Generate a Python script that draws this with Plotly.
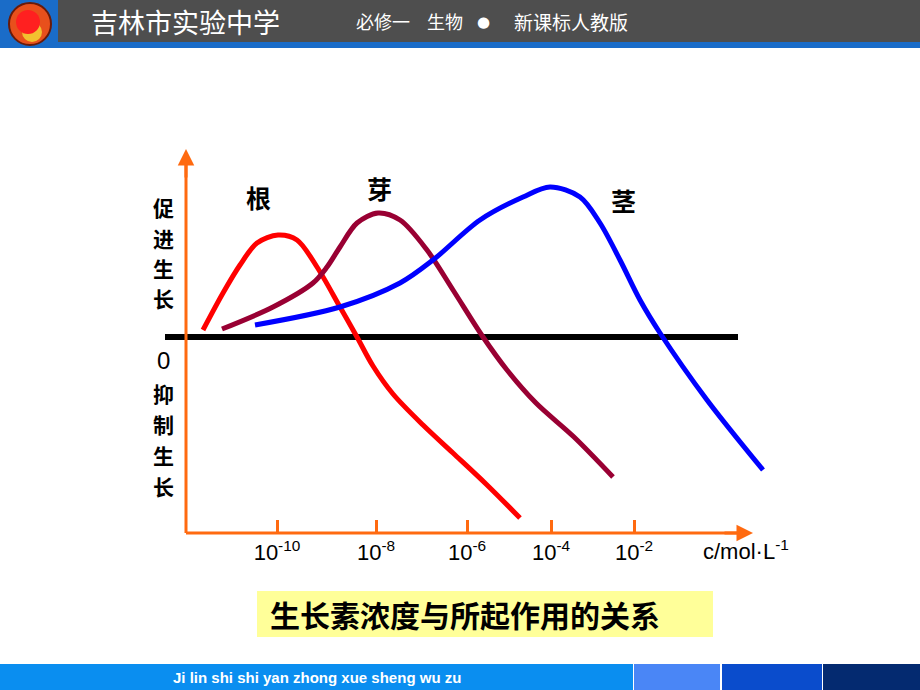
import plotly.graph_objects as go

# ---------------- data (drawing units: x = concentration axis, y = effect, 0 = no effect)
root_x = [1.7, 3.7, 5.4, 7.1, 9.2, 11.1, 13.1, 15.4, 17.1, 18.7, 20.7, 23.7, 26.7, 30.0, 33.4]
root_y = [0.7, 4.4, 7.2, 9.4, 10.2, 9.7, 7.0, 3.0, 0.0, -2.9, -5.7, -8.8, -11.6, -14.7, -18.1]

bud_x = [3.6, 8.7, 12.7, 14.1, 15.4, 17.1, 19.2, 21.4, 24.1, 26.7, 29.7, 32.1, 35.0, 38.8, 42.7]
bud_y = [0.8, 3.0, 5.4, 7.0, 9.0, 11.4, 12.4, 11.7, 8.7, 4.7, 0.0, -3.3, -6.6, -10.0, -14.0]

stem_x = [6.9, 15.4, 21.4, 24.7, 29.4, 33.7, 36.4, 39.4, 41.4, 43.4, 45.4, 47.4, 52.1, 57.7]
stem_y = [1.2, 3.0, 5.4, 7.7, 11.7, 14.0, 15.0, 14.0, 11.4, 7.7, 3.7, 0.4, -6.3, -13.3]

baseline_x = [-2.1, 55.2]
baseline_y = [0, 0]

curve_names = ["根", "芽", "茎"]
curve_label_x = [7.2, 19.3, 43.7]
curve_label_y = [14.0, 14.9, 13.7]

tick_pos = [9.1, 19.0, 28.1, 36.5, 44.8]
tick_text = ["10<sup>-10</sup>", "10<sup>-8</sup>", "10<sup>-6</sup>",
             "10<sup>-4</sup>", "10<sup>-2</sup>"]
unit_text = "c/mol·L<sup>-1</sup>"

promote_chars = ["促", "进", "生", "长"]
promote_y = [13.0, 9.9, 6.9, 3.9]
inhibit_chars = ["抑", "制", "生", "长"]
inhibit_y = [-5.6, -8.7, -11.8, -14.9]
zero_label_y = -2.3
side_label_x = -2.3

caption = "生长素浓度与所起作用的关系"
header_title = "吉林市实验中学"
footer_text = "Ji lin shi shi yan zhong xue sheng wu zu"

# ---------------- layout geometry
W, H = 920, 690
PX0, PW = 161, 610
PY0, PH = 144, 389
XR = [-2.5, 58.5]
YR = [-19.6, 19.3]


def fx(px):
    return (px - PX0) / PW


def fy(py):
    return (PY0 + PH - py) / PH


ORANGE = "#FF6A10"
CJK = "Noto Sans CJK SC"

fig = go.Figure()
fig.add_trace(go.Scatter(x=baseline_x, y=baseline_y, mode="lines",
                         line=dict(color="black", width=6), hoverinfo="skip"))
fig.add_trace(go.Scatter(x=root_x, y=root_y, mode="lines", name=curve_names[0],
                         line=dict(color="#FF0000", width=5, shape="spline", smoothing=0.9)))
fig.add_trace(go.Scatter(x=bud_x, y=bud_y, mode="lines", name=curve_names[1],
                         line=dict(color="#990033", width=5, shape="spline", smoothing=0.9)))
fig.add_trace(go.Scatter(x=stem_x, y=stem_y, mode="lines", name=curve_names[2],
                         line=dict(color="#0000FF", width=5, shape="spline", smoothing=0.9)))

shapes = []
# header
shapes.append(dict(type="rect", xref="paper", yref="paper", x0=fx(0), x1=fx(W), y0=fy(48), y1=fy(0),
                   fillcolor="#1a6cc8", line_width=0, layer="below"))
shapes.append(dict(type="rect", xref="paper", yref="paper", x0=fx(58), x1=fx(W), y0=fy(42), y1=fy(0),
                   fillcolor="#4e4e4e", line_width=0, layer="below"))
# logo
shapes.append(dict(type="circle", xref="paper", yref="paper", x0=fx(9), x1=fx(51), y0=fy(45), y1=fy(3),
                   fillcolor="#e8501c", line=dict(color="#6a1a08", width=2)))
shapes.append(dict(type="circle", xref="paper", yref="paper", x0=fx(22), x1=fx(42), y0=fy(42), y1=fy(22),
                   fillcolor="#f2c030", line_width=0))
shapes.append(dict(type="circle", xref="paper", yref="paper", x0=fx(16), x1=fx(40), y0=fy(34), y1=fy(10),
                   fillcolor="#ff2020", line_width=0))
# footer
shapes.append(dict(type="rect", xref="paper", yref="paper", x0=fx(0), x1=fx(633), y0=fy(H), y1=fy(664),
                   fillcolor="#0a8ef0", line_width=0, layer="below"))
shapes.append(dict(type="rect", xref="paper", yref="paper", x0=fx(634), x1=fx(720), y0=fy(H), y1=fy(664),
                   fillcolor="#4a86f6", line_width=0, layer="below"))
shapes.append(dict(type="rect", xref="paper", yref="paper", x0=fx(722), x1=fx(822), y0=fy(H), y1=fy(664),
                   fillcolor="#0a4ccc", line_width=0, layer="below"))
shapes.append(dict(type="rect", xref="paper", yref="paper", x0=fx(823), x1=fx(W), y0=fy(H), y1=fy(664),
                   fillcolor="#042a70", line_width=0, layer="below"))
# caption box
shapes.append(dict(type="rect", xref="paper", yref="paper", x0=fx(257), x1=fx(713), y0=fy(637), y1=fy(591),
                   fillcolor="#ffff99", line_width=0, layer="below"))
# orange axes
shapes.append(dict(type="line", xref="x", yref="paper", x0=0, x1=0, y0=0, y1=fy(158),
                   line=dict(color=ORANGE, width=3)))
shapes.append(dict(type="line", xref="x", yref="paper", x0=0, x1=55.6, y0=0, y1=0,
                   line=dict(color=ORANGE, width=3)))

ann = []


def label(x, y, text, font, xref="paper", yref="paper"):
    ann.append(dict(x=x, y=y, xref=xref, yref=yref, text=text, showarrow=False,
                    xanchor="center", yanchor="middle", font=font))


# arrow heads
ann.append(dict(x=0, y=fy(149), xref="x", yref="paper", ax=0, ay=30, showarrow=True, arrowhead=2,
                arrowsize=1.1, arrowwidth=3, arrowcolor=ORANGE, text="", font=dict(size=1)))
ann.append(dict(x=56.7, y=0.0, xref="x", yref="paper", ax=-30, ay=0, showarrow=True, arrowhead=2,
                arrowsize=1.1, arrowwidth=3, arrowcolor=ORANGE, text="", font=dict(size=1)))
# curve labels
for name, lx, ly in zip(curve_names, curve_label_x, curve_label_y):
    label(lx, ly, name, dict(family=CJK, size=25, color="black", weight="bold"), "x", "y")
# side labels
for ch, ly in zip(promote_chars, promote_y):
    label(side_label_x, ly, ch, dict(family=CJK, size=21, color="black", weight="bold"), "x", "y")
for ch, ly in zip(inhibit_chars, inhibit_y):
    label(side_label_x, ly, ch, dict(family=CJK, size=21, color="black", weight="bold"), "x", "y")
label(side_label_x, zero_label_y, "0", dict(family="Liberation Sans", size=24, color="black"), "x", "y")
# unit
label(fx(746), fy(550), unit_text, dict(family="Liberation Sans", size=22, color="black"))
# caption
label(fx(465), fy(614), caption, dict(family=CJK, size=30, color="black", weight="bold"))
# header text
label(fx(185), fy(21), header_title, dict(family=CJK, size=27, color="white"))
label(fx(383), fy(21), "必修一", dict(family=CJK, size=18, color="white"))
label(fx(445), fy(21), "生物", dict(family=CJK, size=18, color="white"))
label(fx(483), fy(22), "●", dict(family="DejaVu Sans", size=15, color="white"))
label(fx(571), fy(21), "新课标人教版", dict(family=CJK, size=19, color="white"))
# footer text
label(fx(317), fy(677), footer_text,
      dict(family="Liberation Sans Narrow, Liberation Sans", size=15, color="white", weight="bold"))

fig.update_layout(
    width=W, height=H,
    margin=dict(l=PX0, r=W - PX0 - PW, t=PY0, b=H - PY0 - PH, pad=0),
    paper_bgcolor="white", plot_bgcolor="white",
    showlegend=False,
    shapes=shapes, annotations=ann,
    xaxis=dict(range=XR, showgrid=False, zeroline=False, showline=False,
               tickmode="array", tickvals=tick_pos, ticktext=tick_text,
               ticks="inside", ticklen=13, tickwidth=3, tickcolor=ORANGE,
               tickfont=dict(family="Liberation Sans", size=22, color="black"),
               ticklabelstandoff=4, fixedrange=True),
    yaxis=dict(range=YR, showgrid=False, zeroline=False, showline=False,
               showticklabels=False, ticks="", fixedrange=True),
)

fig.write_html("out.html", config={"displayModeBar": False},
               post_script="document.body.style.margin='0';document.body.style.overflow='hidden';")
